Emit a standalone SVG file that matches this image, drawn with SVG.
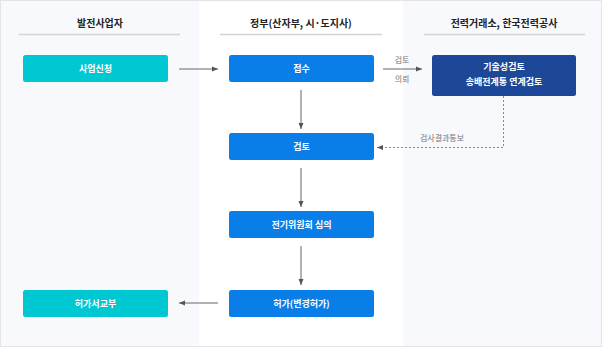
<svg xmlns="http://www.w3.org/2000/svg" width="602" height="347" viewBox="0 0 602 347">
<style>
.hdr{font-family:"Noto Sans CJK KR","Noto Sans",sans-serif;font-size:10px;font-weight:700;fill:#222;text-anchor:middle}
.ul{stroke:#d4d4d8;stroke-width:1.5}
.nt{font-family:"Noto Sans CJK KR","Noto Sans",sans-serif;font-size:9px;font-weight:700;fill:#fff;text-anchor:middle}
.lbl{font-family:"Noto Sans CJK KR","Noto Sans",sans-serif;font-size:8px;fill:#777;text-anchor:middle}
.teal{fill:#00c8d3}
.blue{fill:#0a7ee8}
.dark{fill:#1d4898}
.con{stroke:#666;stroke-width:1;fill:none}
.dash{stroke:#888;stroke-width:1;fill:none;stroke-dasharray:2 2}
</style>
<defs>
<marker id="ah" viewBox="0 0 6 6" refX="6" refY="3" markerWidth="6" markerHeight="6" orient="auto" markerUnits="userSpaceOnUse">
<path d="M0,0.5 L6,3 L0,5.5 Z" fill="#555"/>
</marker>
</defs>
<rect x="0.5" y="0.5" width="601" height="346" fill="#fff" stroke="#e4e4e7"/>
<rect x="1" y="1" width="198" height="345" fill="#f8f9fd"/>
<rect x="403" y="1" width="198" height="345" fill="#f8f9fd"/>
<g id="headers">
<text class="hdr" x="100" y="27">발전사업자</text>
<line class="ul" x1="19" y1="34.5" x2="180" y2="34.5"/>
<text class="hdr" x="301" y="27">정부(산자부, 시·도지사)</text>
<line class="ul" x1="220" y1="34.5" x2="382" y2="34.5"/>
<text class="hdr" x="504" y="27">전력거래소, 한국전력공사</text>
<line class="ul" x1="424" y1="34.5" x2="585" y2="34.5"/>
</g>
<g id="connectors">
<line class="con" x1="179" y1="69" x2="218" y2="69" marker-end="url(#ah)"/>
<line class="con" x1="383" y1="69" x2="422" y2="69" marker-end="url(#ah)"/>
<text class="lbl" x="402" y="63">검토</text>
<text class="lbl" x="402" y="82">의뢰</text>
<polyline class="dash" points="503.5,96 503.5,147.5 377,147.5" marker-end="url(#ah)"/>
<text class="lbl" x="442" y="141">검사결과통보</text>
<line class="con" x1="301" y1="90" x2="301" y2="129" marker-end="url(#ah)"/>
<line class="con" x1="301" y1="168" x2="301" y2="207" marker-end="url(#ah)"/>
<line class="con" x1="301" y1="246" x2="301" y2="285" marker-end="url(#ah)"/>
<line class="con" x1="218" y1="303" x2="179" y2="303" marker-end="url(#ah)"/>
</g>
<g id="n-apply">
<rect class="teal" x="23" y="55" width="145" height="27" rx="2.5"/>
<text class="nt" x="95.5" y="71.5">사업신청</text>
</g>
<g id="n-receive">
<rect class="blue" x="229" y="55" width="145" height="27" rx="2.5"/>
<text class="nt" x="301.5" y="71.5">접수</text>
</g>
<g id="n-tech">
<rect class="dark" x="432" y="55" width="144" height="41" rx="2.5"/>
<text class="nt" x="504" y="70">기술성검토</text>
<text class="nt" x="504" y="84.5">송배전계통 연계검토</text>
</g>
<g id="n-review">
<rect class="blue" x="229" y="133" width="145" height="27" rx="2.5"/>
<text class="nt" x="301.5" y="149.5">검토</text>
</g>
<g id="n-committee">
<rect class="blue" x="229" y="211" width="145" height="27" rx="2.5"/>
<text class="nt" x="301.5" y="227.5">전기위원회 심의</text>
</g>
<g id="n-permit">
<rect class="blue" x="229" y="290" width="145" height="27" rx="2.5"/>
<text class="nt" x="301.5" y="306.5">허가(변경허가)</text>
</g>
<g id="n-issue">
<rect class="teal" x="23" y="290" width="145" height="27" rx="2.5"/>
<text class="nt" x="95.5" y="306.5">허가서교부</text>
</g>
</svg>
